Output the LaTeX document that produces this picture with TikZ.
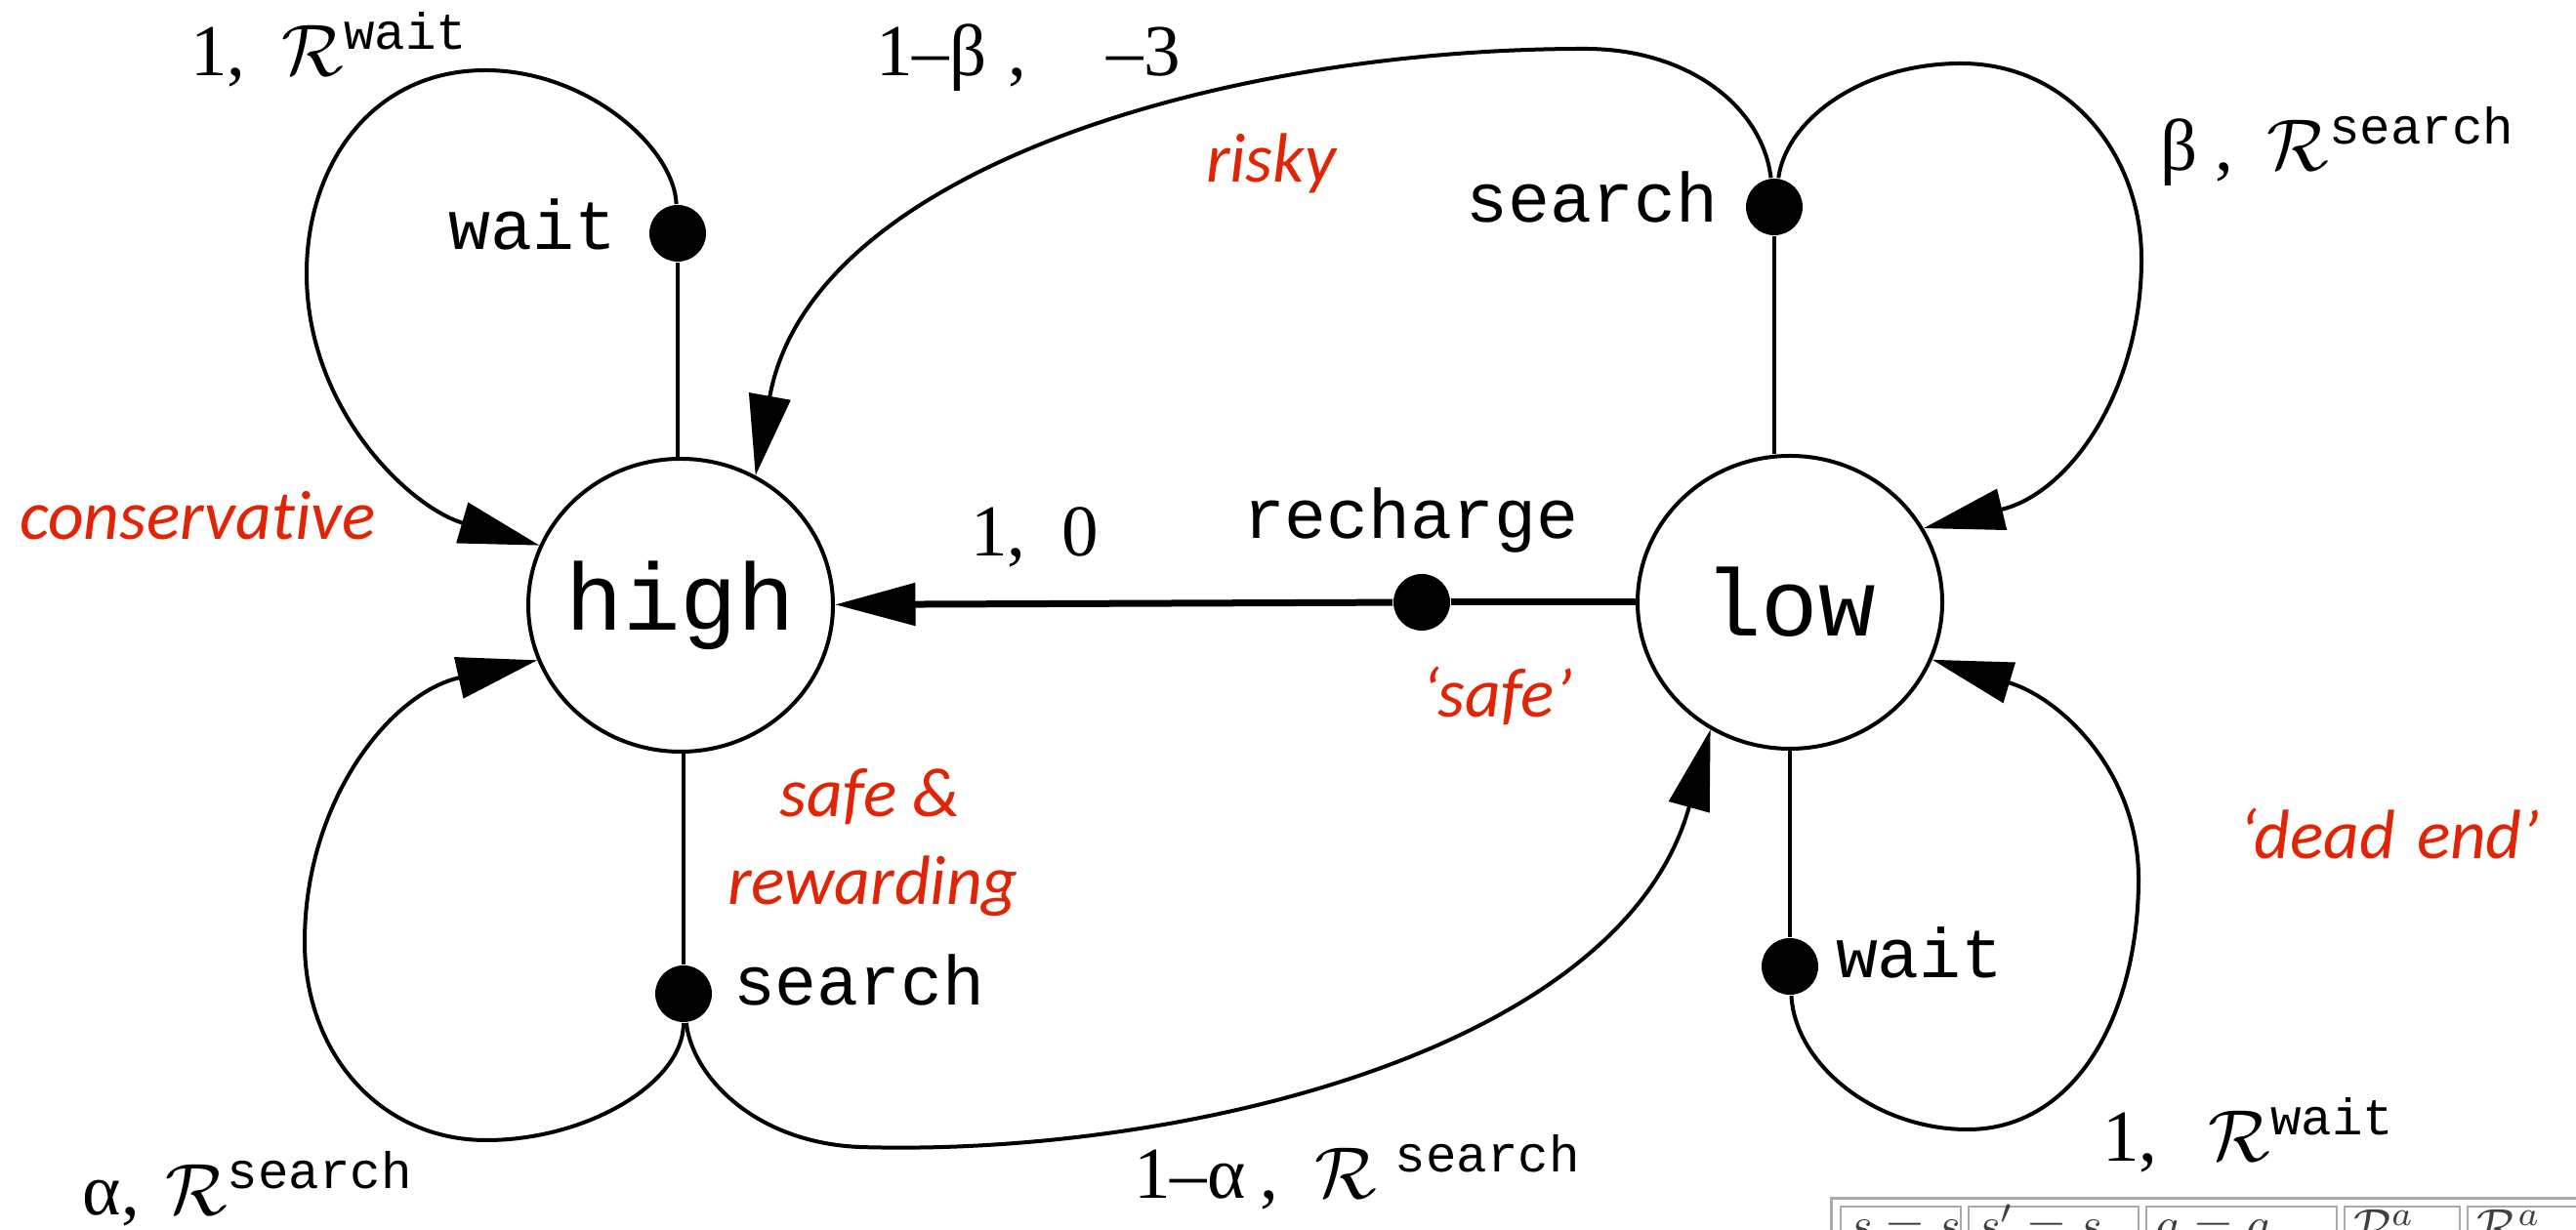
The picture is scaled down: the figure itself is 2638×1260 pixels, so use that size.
\documentclass[tikz,border=0pt]{standalone}
\usepackage{fix-cm}
\usepackage{fontspec}
\setmainfont{Liberation Serif}
\newfontfamily\monof{Liberation Mono}
\newfontfamily\redf{Carlito}[Ligatures=NoCommon]
\usetikzlibrary{arrows.meta,shapes.geometric}
\definecolor{annot}{RGB}{226,36,6}
\definecolor{tabgray}{RGB}{170,170,170}
\newcommand\Rs[1]{$\mathcal{R}$\raisebox{0.37em}{\monof\fontsize{10.5}{12}\selectfont #1}}
\begin{document}
\begin{tikzpicture}[x=0.2pt,y=-0.2pt,
  stnode/.style={ellipse,draw,line width=0.8pt,minimum width=62.4pt,minimum height=60pt,inner sep=0pt,font=\monof\fontsize{19.5}{22}\selectfont},
  actdot/.style={circle,fill=black,minimum size=11.6pt,inner sep=0pt},
  act/.style={inner sep=0pt,font=\monof\fontsize{14.3}{16}\selectfont},
  prob/.style={inner sep=0pt,font=\fontsize{15}{18}\selectfont},
  note/.style={inner sep=0pt,text=annot,font=\redf\itshape\fontsize{14.3}{17}\selectfont},
  conn/.style={line width=0.8pt},
  arr/.style={conn,-{Triangle[length=16.5pt,width=8.5pt]}},
  cell/.style={draw=tabgray,line width=0.5pt},
  celltxt/.style={inner sep=0pt,text=black!75,font=\fontsize{10}{12}\selectfont}
]
\useasboundingbox (0,0) rectangle (2638,1260);
\fill[white] (0,0) rectangle (2638,1260);

% states
\node[stnode] (high) at (697,620) {\makebox[0pt]{high}};
\node[stnode] (low) at (1833,617) {\makebox[0pt]{low}};

% action dots
\node[actdot] (hw) at (694,239) {};
\node[actdot] (hs) at (700,1018) {};
\node[actdot] (rc) at (1456,617) {};
\node[actdot] (ls) at (1817,212) {};
\node[actdot] (lw) at (1833,990) {};

% action labels
\node[act,anchor=base east] (hwl) at (632,256) {wait};
\node[act,anchor=base west] (hsl) at (750,1030) {search};
\node[act,anchor=base west] (rcl) at (1272,552) {recharge};
\node[act,anchor=base east] (lsl) at (1760,228) {search};
\node[act,anchor=base west] (lwl) at (1879,1002) {wait};

% probability / reward labels
\node[prob,anchor=base west] (p1) at (194,78) {1,\hspace{0.5em}\Rs{wait}};
\node[prob,anchor=base west] (p2) at (896,78) {1–β\hspace{0.3em},\hspace{1.1em}–3};
\node[prob,anchor=base west] (p3) at (2211,175) {β\hspace{0.25em},\hspace{0.45em}\Rs{search}};
\node[prob,anchor=base west] (p4) at (84,1245) {α,\hspace{0.35em}\Rs{search}};
\node[prob,anchor=base west] (p5) at (1160,1228) {1–α\hspace{0.2em},\hspace{0.5em}$\mathcal{R}$\hspace{0.25em}\raisebox{0.37em}{\monof\fontsize{10.5}{12}\selectfont search}};
\node[prob,anchor=base west] (p6) at (2152,1190) {1,\hspace{0.7em}\Rs{wait}};
\node[prob,anchor=base west] (p7) at (993,570) {1,\hspace{0.5em}0};

% red annotations
\node[note,anchor=base west] (n1) at (19,553) {conservative};
\node[note,anchor=base west] (n2) at (1234,187) {risky};
\node[note,anchor=base west] (n3) at (1455,735) {‘safe’};
\node[note,anchor=base] (n4) at (891,837) {safe \&};
\node[note,anchor=base] (n5) at (894,927) {rewarding};
\node[note,anchor=base west] (n6) at (2292,880) {‘dead\hspace{0.08em} end’};

% state -- action lines
\draw[conn] (hw) -- (hw |- high.north);
\draw[conn] (high.south -| hs) -- (hs);
\draw[conn] (ls) -- (ls |- low.north);
\draw[conn] (low.south -| lw) -- (lw);
\draw[conn,line width=1.4pt] (low) -- (rc);
\draw[arr,line width=1.4pt] (rc) -- (high);

% high: wait
\draw[arr] (hw) .. controls (690,150) and (600,72) .. (497,72)
  .. controls (380,72) and (314,170) .. (314,280)
  .. controls (314,420) and (420,520) .. (high.157);
% high: search (stay)
\draw[arr] (hs) .. controls (700,1110) and (600,1168) .. (498,1168)
  .. controls (390,1168) and (312,1080) .. (312,965)
  .. controls (312,820) and (400,710) .. (high.201);
% high: search (to low)
\draw[arr] (hs) .. controls (708,1100) and (770,1170) .. (880,1175)
  .. controls (1200,1185) and (1660,1080) .. (low.238);
% low: search (risky, to high)
\draw[arr] (ls) .. controls (1805,110) and (1730,50) .. (1623,50)
  .. controls (1250,50) and (830,175) .. (high.60);
% low: search (stay)
\draw[arr] (ls) .. controls (1830,120) and (1910,65) .. (2008,65)
  .. controls (2120,65) and (2193,160) .. (2193,265)
  .. controls (2193,400) and (2120,505) .. (low.29);
% low: wait
\draw[arr] (lw) .. controls (1838,1090) and (1920,1157) .. (2015,1157)
  .. controls (2125,1157) and (2190,1040) .. (2190,900)
  .. controls (2190,790) and (2110,715) .. (low.338);

% cropped table fragment at the bottom right
\draw[tabgray,line width=0.6pt] (1875,1290) -- (1875,1228) -- (2660,1228);
\draw[cell] (1885,1236) rectangle (2008,1300);
\draw[cell] (2016,1236) rectangle (2190,1300);
\draw[cell] (2198,1236) rectangle (2393,1300);
\draw[cell] (2401,1236) rectangle (2519,1300);
\draw[cell] (2527,1236) rectangle (2700,1300);
\node[celltxt,anchor=base west] (t1) at (1893,1272) {$s = s$};
\node[celltxt,anchor=base west] (t2) at (2024,1272) {$s' = s$};
\node[celltxt,anchor=base west] (t3) at (2206,1272) {$a = a$};
\node[celltxt,anchor=base west] (t4) at (2409,1274) {$\mathcal{P}^a$};
\node[celltxt,anchor=base west] (t5) at (2535,1274) {$\mathcal{R}^a$};
\end{tikzpicture}
\end{document}
